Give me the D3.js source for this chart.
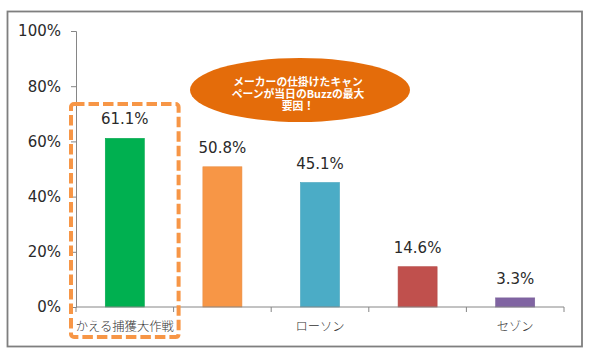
<!DOCTYPE html>
<html>
<head>
<meta charset="utf-8">
<style>
  body { margin: 0; background: #fff; }
  svg { display: block; }
  .note {
    font-family: 'Noto Sans CJK JP', sans-serif;
    font-weight: bold;
    font-size: 10.8px;
    line-height: 11.8px;
    color: #fff;
    text-align: center;
  }
</style>
</head>
<body>
<svg width="590" height="354"></svg>
<script src="https://cdnjs.cloudflare.com/ajax/libs/d3/7.8.5/d3.min.js"></script>
<script>

var categories = ["かえる捕獲大作戦", "", "ローソン", "", "セゾン"];
var values = [61.1, 50.8, 45.1, 14.6, 3.3];
var colors = ["#00B050", "#F79646", "#4BACC6", "#C0504D", "#8064A2"];
var yTicks = [0, 20, 40, 60, 80, 100];
var note = ["メーカーの仕掛けたキャン", "ペーンが当日のBuzzの最大", "要因！"];

var svg = d3.select("svg");
var numFont = "'DejaVu Sans', sans-serif";
var jpFont = "'Noto Sans CJK JP', sans-serif";

// chart frame
svg.append("rect")
    .attr("x", 7.5).attr("y", 11.5)
    .attr("width", 574.5).attr("height", 335)
    .attr("fill", "#fff")
    .attr("stroke", "#7f7f7f")
    .attr("stroke-width", 1.8);

var x = d3.scaleBand()
    .domain(d3.range(values.length))
    .range([76, 564])
    .padding(0);

var y = d3.scaleLinear()
    .domain([0, 100])
    .range([307, 31]);

var barW = x.bandwidth() * 0.4;

// y axis
var yAxis = svg.append("g")
    .attr("transform", "translate(76,0)")
    .call(d3.axisLeft(y).tickValues(yTicks).tickSize(5).tickPadding(10)
        .tickFormat(function(d) { return d + "%"; }));
yAxis.select(".domain").attr("stroke", "#868686");
yAxis.selectAll(".tick line").attr("stroke", "#868686");
yAxis.selectAll(".tick text")
    .attr("font-family", numFont)
    .attr("font-size", 15)
    .attr("fill", "#2a2a2a");

// bars
svg.append("g").selectAll("rect")
    .data(values)
    .join("rect")
    .attr("x", function(d, i) { return x(i) + (x.bandwidth() - barW) / 2; })
    .attr("y", function(d) { return y(d); })
    .attr("width", barW)
    .attr("height", function(d) { return y(0) - y(d); })
    .attr("fill", function(d, i) { return colors[i]; })
    .attr("stroke", function(d, i) { return d3.color(colors[i]).darker(0.15); })
    .attr("stroke-width", 0.6);

// value labels
svg.append("g").selectAll("text")
    .data(values)
    .join("text")
    .attr("x", function(d, i) { return x(i) + x.bandwidth() / 2; })
    .attr("y", function(d) { return y(d) - 14; })
    .attr("text-anchor", "middle")
    .attr("font-family", numFont)
    .attr("font-size", 15)
    .attr("fill", "#2a2a2a")
    .text(function(d) { return d.toFixed(1) + "%"; });

// x axis: baseline + ticks at category edges
var xAxis = svg.append("g");
xAxis.append("line")
    .attr("x1", x.range()[0]).attr("x2", x.range()[1])
    .attr("y1", y(0)).attr("y2", y(0))
    .attr("stroke", "#868686");
xAxis.selectAll("line.tk")
    .data(d3.range(values.length + 1))
    .join("line")
    .attr("class", "tk")
    .attr("x1", function(i) { return x.range()[0] + i * x.step(); })
    .attr("x2", function(i) { return x.range()[0] + i * x.step(); })
    .attr("y1", y(0)).attr("y2", y(0) + 5)
    .attr("stroke", "#868686");
xAxis.selectAll("text")
    .data(categories)
    .join("text")
    .attr("x", function(d, i) { return x(i) + x.bandwidth() / 2; })
    .attr("y", y(0) + 24)
    .attr("text-anchor", "middle")
    .attr("font-family", jpFont)
    .attr("font-weight", 300)
    .attr("font-size", 12.3)
    .attr("fill", "#333")
    .text(function(d) { return d; });

// highlight around first category
svg.append("rect")
    .attr("x", x(0) - 5).attr("y", 104)
    .attr("width", x.bandwidth() + 10).attr("height", 233)
    .attr("rx", 3)
    .attr("fill", "none")
    .attr("stroke", "#F79646")
    .attr("stroke-width", 4)
    .attr("stroke-dasharray", "10.5,4");

// callout: ellipse with wrapped text block
var callout = svg.append("g");
callout.append("ellipse")
    .attr("cx", 300).attr("cy", 90)
    .attr("rx", 110).attr("ry", 32)
    .attr("fill", "#E46C0A");
callout.append("foreignObject")
    .attr("x", 208).attr("y", 76)
    .attr("width", 180).attr("height", 38)
  .append("xhtml:div")
    .attr("class", "note")
    .html(note.join("<br>"));

</script>
</body>
</html>
